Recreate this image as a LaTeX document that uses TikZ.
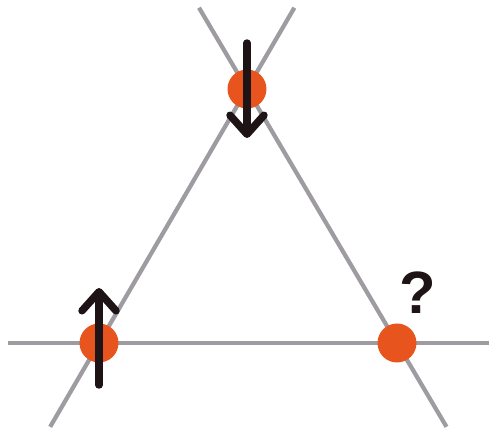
\documentclass[tikz,border=0pt]{standalone}
\usepackage{fontspec}
\setsansfont{Liberation Sans}
\usetikzlibrary{arrows.meta,calc}

\definecolor{latticegray}{RGB}{158,155,161}
\definecolor{siteorange}{RGB}{232,84,30}
\definecolor{spinblack}{RGB}{30,20,22}

\begin{document}
\begin{tikzpicture}[
    x=0.02cm, y=-0.02cm,
    bond/.style={draw=latticegray, line width=0.085cm, line cap=butt},
    site/.style={circle, fill=siteorange, minimum size=0.78cm, inner sep=0pt},
    spin/.style={draw=spinblack, line width=0.15cm, line cap=round,
                 -{Straight Barb[length=0.38cm, width=0.68cm, round]}},
    qmark/.style={font=\sffamily\bfseries\fontsize{34}{34}\selectfont,
                  text=spinblack, anchor=base},
]
\useasboundingbox (0,0) rectangle (495,430);

% --- Lattice sites ---
\coordinate (top) at (247,89);
\coordinate (left) at (99,343);
\coordinate (right) at (397,343);

% --- Bonds, extended past the triangle ---
\draw[bond] ($(left)!-0.33!(top)$) -- ($(left)!1.32!(top)$);
\draw[bond] ($(right)!-0.33!(top)$) -- ($(right)!1.32!(top)$);
\draw[bond] ($(left)!-0.306!(right)$) -- ($(left)!1.31!(right)$);

% --- Site dots ---
\node[site] (topdot) at (top) {};
\node[site] (leftdot) at (left) {};
\node[site] (rightdot) at (right) {};

% --- Spins ---
\coordinate (topspin) at ([yshift=0.92cm]topdot.center);
\coordinate (leftspin) at ([yshift=-0.84cm]leftdot.center);
\draw[spin] (topspin) -- ([yshift=-0.98cm]topdot.center);
\draw[spin] (leftspin) -- ([yshift=1.1cm]leftdot.center);

% --- Frustrated site ---
\node[qmark] (question) at (418,313) {?};

\end{tikzpicture}
\end{document}
